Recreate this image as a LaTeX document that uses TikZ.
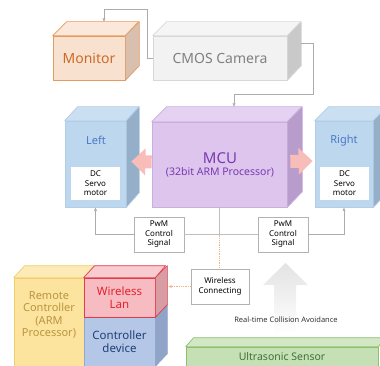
\documentclass[tikz,border=0pt]{standalone}
\usepackage{fontspec}
\setmainfont{Noto Sans}
\usetikzlibrary{arrows.meta}

\definecolor{monfront}{HTML}{F9E1D0}
\definecolor{montop}{HTML}{FBE8DA}
\definecolor{monside}{HTML}{D9BFAE}
\definecolor{monedge}{HTML}{E39A5E}
\definecolor{montext}{HTML}{CC6A28}
\definecolor{camfront}{HTML}{F2F2F2}
\definecolor{camtop}{HTML}{F5F5F5}
\definecolor{camside}{HTML}{C9C9C9}
\definecolor{camedge}{HTML}{D8D8D8}
\definecolor{camtext}{HTML}{808080}
\definecolor{mcufront}{HTML}{DDC5EE}
\definecolor{mcutop}{HTML}{E5D2F2}
\definecolor{mcuside}{HTML}{B89CCC}
\definecolor{mcuedge}{HTML}{CBAEE0}
\definecolor{mcutext}{HTML}{7A3AAE}
\definecolor{motfront}{HTML}{BDD7EE}
\definecolor{mottop}{HTML}{CADFF2}
\definecolor{motside}{HTML}{95AFC8}
\definecolor{motedge}{HTML}{B2CDE6}
\definecolor{mottext}{HTML}{4A78C6}
\definecolor{pinkarrow}{HTML}{F8BDB8}
\definecolor{remfront}{HTML}{FDE49E}
\definecolor{remtop}{HTML}{FCEBB6}
\definecolor{remedge}{HTML}{F0CF6E}
\definecolor{remtext}{HTML}{B89540}
\definecolor{lanfront}{HTML}{F6BCC2}
\definecolor{lantop}{HTML}{F8CBD0}
\definecolor{lanside}{HTML}{D89CA3}
\definecolor{lanedge}{HTML}{E23B4A}
\definecolor{lantext}{HTML}{E2232F}
\definecolor{ctrlfront}{HTML}{B4C7E7}
\definecolor{ctrlside}{HTML}{8FA4C7}
\definecolor{ctrledge}{HTML}{8EA7D3}
\definecolor{ctrltext}{HTML}{213F78}
\definecolor{sonfront}{HTML}{C5E0B4}
\definecolor{sontop}{HTML}{D2E8C4}
\definecolor{sonedge}{HTML}{8DC06F}
\definecolor{sontext}{HTML}{3F7335}
\definecolor{wifi}{HTML}{F4B183}

\begin{document}
\begin{tikzpicture}[x=1pt,y=-1pt]
    % Define styles
    \tikzstyle{box}=[draw, line width=0.7pt, inner sep=0pt, align=center]
    \tikzstyle{face}=[line width=0.7pt, line join=round]
    \tikzstyle{link}=[draw=gray!65, line width=0.5pt, -{Latex[length=3.5pt,width=3pt]}]
    \tikzstyle{wire}=[draw=gray!50, line width=0.5pt]
    \tikzstyle{radio}=[draw=wifi, line width=0.6pt, dash pattern=on 0.8pt off 1pt]
    \tikzstyle{signal}=[draw=gray!60, fill=white, line width=0.6pt, minimum width=50pt, minimum height=35pt, align=center, inner sep=1pt, font=\fontsize{8}{9.5}\selectfont]
    \tikzstyle{servo}=[fill=white, minimum width=49pt, minimum height=33pt, align=center, inner sep=1pt, font=\fontsize{8}{9.5}\selectfont]
    \tikzstyle{fat}=[draw=pinkarrow, line width=13pt, -{Triangle[width=26pt,length=14pt]}]

    \useasboundingbox (0,0) rectangle (380,366);

    % Row 1: monitor and camera
    \node[box, fill=monfront, draw=monedge, text=montext, minimum width=72pt, minimum height=44pt, font=\fontsize{14}{16}\selectfont] (monitor) at (89,58) {Monitor};
    \filldraw[face, fill=montop, draw=monedge] (monitor.north west) -- ++(14,-14) -- ++(72,0) -- (monitor.north east) -- cycle;
    \filldraw[face, fill=monside, draw=monedge] (monitor.north east) -- ++(14,-14) -- ++(0,44) -- (monitor.south east) -- cycle;

    \node[box, fill=camfront, draw=camedge, text=camtext, minimum width=134pt, minimum height=44pt, font=\fontsize{14}{16}\selectfont] (camera) at (220,58) {CMOS Camera};
    \filldraw[face, fill=camtop, draw=camedge] (camera.north west) -- ++(14,-14) -- ++(134,0) -- (camera.north east) -- cycle;
    \filldraw[face, fill=camside, draw=camedge] (camera.north east) -- ++(14,-14) -- ++(0,44) -- (camera.south east) -- cycle;

    % camera -> monitor, camera -> MCU
    \coordinate (montop) at (104,22);
    \coordinate (camright) at (301,43);
    \coordinate (mcuin) at (234,107);
    \draw[link] (camera.west) -| (147,9) -| (montop);
    \draw[link] (camright) -| (313,94) -| (mcuin);

    % Row 2: motors and MCU
    \node[box, fill=motfront, draw=motedge, minimum width=61pt, minimum height=86pt] (left) at (95.5,164) {};
    \filldraw[face, fill=mottop, draw=motedge] (left.north west) -- ++(13,-14) -- ++(61,0) -- (left.north east) -- cycle;
    \filldraw[face, fill=motside, draw=motedge] (left.north east) -- ++(13,-14) -- ++(0,86) -- (left.south east) -- cycle;
    \node[text=mottext, font=\fontsize{11}{13}\selectfont] (lefttitle) at (96,140) {Left};
    \node[servo] (servol) at (95.5,183.5) {DC\\Servo\\motor};

    \node[box, fill=motfront, draw=motedge, minimum width=58pt, minimum height=86pt] (right) at (344,164) {};
    \filldraw[face, fill=mottop, draw=motedge] (right.north west) -- ++(14,-14) -- ++(58,0) -- (right.north east) -- cycle;
    \filldraw[face, fill=motside, draw=motedge] (right.north east) -- ++(14,-14) -- ++(0,86) -- (right.south east) -- cycle;
    \node[text=mottext, font=\fontsize{11}{13}\selectfont] (righttitle) at (344,141) {Right};
    \node[servo] (servor) at (344.5,183.5) {DC\\Servo\\motor};

    \node[box, fill=mcufront, draw=mcuedge, minimum width=135pt, minimum height=85pt] (mcu) at (219.5,164.5) {};
    \filldraw[face, fill=mcutop, draw=mcuedge] (mcu.north west) -- ++(15,-15) -- ++(135,0) -- (mcu.north east) -- cycle;
    \filldraw[face, fill=mcuside, draw=mcuedge] (mcu.north east) -- ++(15,-15) -- ++(0,85) -- (mcu.south east) -- cycle;
    \node[text=mcutext, font=\fontsize{15}{17}\selectfont] (mcutitle) at (220,158) {MCU};
    \node[text=mcutext, font=\fontsize{10.5}{12}\selectfont] (mcusub) at (220,172) {(32bit ARM Processor)};

    % MCU drives both motors
    \draw[fat] ([yshift=2.5pt]mcu.west) -- ([xshift=5pt,yshift=2.5pt]left.east);
    \draw[fat] ([xshift=3pt,yshift=3pt]mcu.east) -- ([xshift=-2pt,yshift=3pt]right.west);

    % PwM signals
    \node[signal] (pwml) at (159,234.5) {PwM\\Control\\Signal};
    \node[signal] (pwmr) at (283,234.5) {PwM\\Control\\Signal};
    \draw[link] (pwml.west) -| (left.south);
    \draw[wire] (pwml.east) -- (pwmr.west);
    \draw[link] (pwmr.east) -| (right.south);
    \draw[wire] (mcu.south) -- (mcu.south |- pwml.east) coordinate (junction);

    % Wireless link
    \node[signal, minimum width=58pt] (wireless) at (220,286.5) {Wireless\\Connecting};
    \draw[radio] (junction) -- (junction |- wireless.north);
    \coordinate (lanface) at (168,286.5);
    \draw[radio, -{Latex[length=3.5pt,width=3pt]}] (wireless.west) -- (lanface);

    % Row 3: remote controller
    \node[box, fill=remfront, draw=remedge, minimum width=70pt, minimum height=90pt] (remote) at (49,323) {};
    \filldraw[face, fill=remtop, draw=remedge] (remote.north west) -- ++(11,-12) -- ++(70,0) -- (remote.north east) -- cycle;
    \node[text=remtext, align=center, font=\fontsize{11}{12.5}\selectfont] (remotetitle) at (49,315) {Remote\\Controller\\(ARM\\Processor)};

    \node[box, fill=ctrlfront, draw=ctrledge, text=ctrltext, minimum width=71pt, minimum height=49pt, font=\fontsize{11.5}{12.5}\selectfont] (ctrl) at (119.5,341.5) {Controller\\device};
    \filldraw[face, fill=ctrlside, draw=ctrledge] (ctrl.north east) -- ++(12,-12) -- ++(0,49) -- (ctrl.south east) -- cycle;

    \node[box, fill=lanfront, draw=lanedge, text=lantext, minimum width=71pt, minimum height=39pt, font=\fontsize{11.5}{12.5}\selectfont] (lan) at (119.5,297.5) {Wireless\\Lan};
    \filldraw[face, fill=lantop, draw=lanedge] (lan.north west) -- ++(11,-12) -- ++(71,0) -- (lan.north east) -- cycle;
    \filldraw[face, fill=lanside, draw=lanedge] (lan.north east) -- ++(12,-12) -- ++(0,39) -- (lan.south east) -- cycle;

    % Collision avoidance
    \shade[top color=gray!22, bottom color=white] (285.5,263) -- (308,285) -- (296,285) -- (296,334) -- (274,334) -- (274,285) -- (263,285) -- cycle;
    \node[text=black!80, font=\fontsize{7.5}{9}\selectfont] (avoid) at (286,320) {Real-time Collision Avoidance};

    \node[box, fill=sonfront, draw=sonedge, text=sontext, minimum width=192pt, minimum height=19pt, font=\fontsize{10.5}{12}\selectfont] (sensor) at (282,356.5) {Ultrasonic Sensor};
    \filldraw[face, fill=sontop, draw=sonedge] (sensor.north west) -- ++(8,-9) -- ++(192,0) -- (sensor.north east) -- cycle;

\end{tikzpicture}
\end{document}
